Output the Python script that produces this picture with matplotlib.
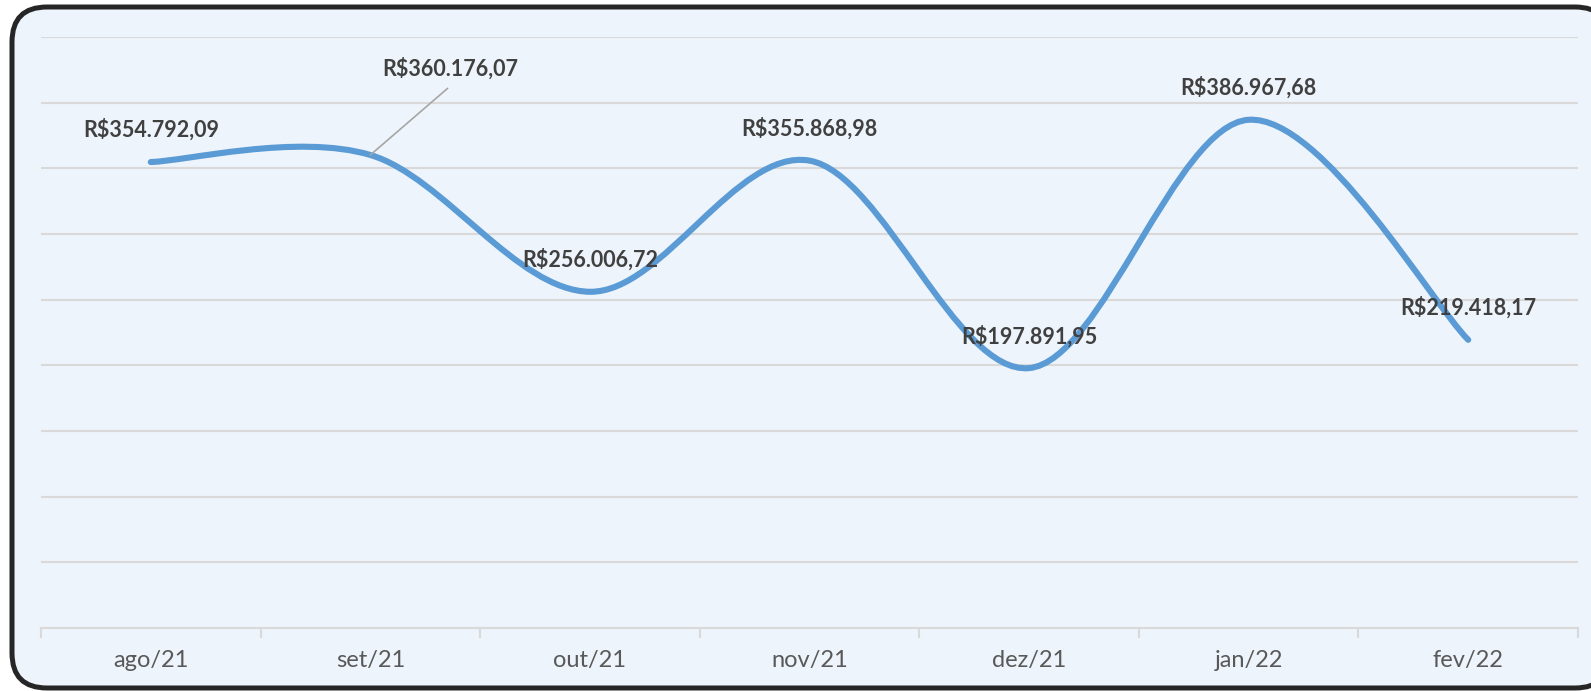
import numpy as np
import matplotlib
matplotlib.use("Agg")
import matplotlib.pyplot as plt
from matplotlib.path import Path
from matplotlib.patches import PathPatch, FancyBboxPatch

months = ["ago/21", "set/21", "out/21", "nov/21", "dez/21", "jan/22", "fev/22"]
values = [354792.09, 360176.07, 256006.72, 355868.98, 197891.95, 386967.68, 219418.17]
labels = ["R$354.792,09", "R$360.176,07", "R$256.006,72", "R$355.868,98",
          "R$197.891,95", "R$386.967,68", "R$219.418,17"]

plt.rcParams['font.family'] = ['Lato', 'DejaVu Sans']

W, H = 1591, 691
fig = plt.figure(figsize=(W/100, H/100), dpi=100, facecolor='white')

# rounded frame, runs off the right edge like the screenshot
frame = FancyBboxPatch((12/W, 3/H), (1610 - 12)/W, (684 - 3)/H,
                       boxstyle="round,pad=0,rounding_size=0.022",
                       transform=fig.transFigure, facecolor='#EEF4FB',
                       edgecolor='#262626', linewidth=3.6, mutation_aspect=W/H,
                       zorder=-5)
fig.patches.append(frame)

ax = fig.add_axes([41/W, (H-628)/H, (1578-41)/W, (628-37)/H])
ax.set_facecolor('none')
ax.set_xlim(-0.5, len(months) - 0.5)
ax.set_ylim(0, 450000)
ax.set_yticks(np.arange(0, 450001, 50000))
ax.yaxis.grid(True, color='#D9D9D9', linewidth=1.5)
ax.set_axisbelow(True)
ax.tick_params(axis='y', left=False, labelleft=False)
for s in ['top', 'right', 'left']:
    ax.spines[s].set_visible(False)
ax.spines['bottom'].set_color('#D9D9D9')
ax.spines['bottom'].set_linewidth(1.5)

x = np.arange(len(months))
ax.set_xticks(x)
ax.set_xticklabels(months, fontsize=17, color='#595959')
ax.tick_params(axis='x', length=0, pad=16)
ax.set_xticks(np.arange(-0.5, len(months)), minor=True)
ax.tick_params(axis='x', which='minor', length=7, width=1.5, color='#D9D9D9')

# Excel-style smoothed line (cubic bezier, tension 1/6)
pts = np.column_stack([x, values]).astype(float)
n = len(pts)
verts = [pts[0]]
codes = [Path.MOVETO]
for i in range(n - 1):
    p_prev = pts[i - 1] if i > 0 else pts[i]
    p_next2 = pts[i + 2] if i + 2 < n else pts[i + 1]
    c1 = pts[i] + (pts[i + 1] - p_prev) / 6
    c2 = pts[i + 1] - (p_next2 - pts[i]) / 6
    verts += [c1, c2, pts[i + 1]]
    codes += [Path.CURVE4] * 3
ax.add_patch(PathPatch(Path(verts, codes), facecolor='none', edgecolor='#5B9BD5',
                       linewidth=4.4, capstyle='round', joinstyle='round', zorder=3))

for i, (v, lab) in enumerate(zip(values, labels)):
    if i == 1:
        ax.annotate(lab, xy=(i, v), xytext=(80, 86), textcoords='offset pixels',
                    ha='center', va='center', fontsize=15.5, fontweight='bold',
                    color='#404040',
                    arrowprops=dict(arrowstyle='-', color='#A6A6A6', lw=1.2,
                                    shrinkA=6, shrinkB=0,
                                    relpos=(0.55, 0.0)), zorder=4)
    else:
        ax.annotate(lab, xy=(i, v), xytext=(0, 32), textcoords='offset pixels',
                    ha='center', va='center', fontsize=15.5, fontweight='bold',
                    color='#404040', zorder=4)

fig.savefig("out.png", dpi=100, facecolor='white')
